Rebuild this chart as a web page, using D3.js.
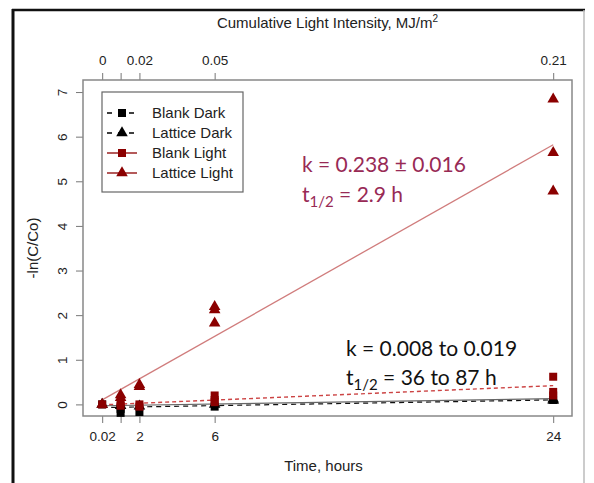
<!DOCTYPE html>
<html>
<head>
<meta charset="utf-8">
<title>Photolysis kinetics</title>
<style>
  body { margin: 0; background: #fff; }
  text { font-family: "Liberation Sans", Arial, sans-serif; fill: #222; }
  .note { font-family: Lato, "Open Sans", sans-serif; }
</style>
</head>
<body>
<script src="https://d3js.org/d3.v7.min.js"></script>
<script>
// tick positions and labels
var hourTicks = [0.02, 1, 2, 6, 24];
var hourTickLabels = ["0.02", "", "2", "6", "24"];
var lightTickLabels = ["0", "", "0.02", "0.05", "0.21"];
var yTicks = [0, 1, 2, 3, 4, 5, 6, 7];

// measured points: [hours, -ln(C/Co)]
var blankDark = [[0.02, 0], [1, -0.19], [1, -0.1], [2, -0.17], [6, -0.05], [24, 0.1]];
var latticeDark = [[0.02, 0], [1, -0.03], [2, -0.04], [6, 0.0], [24, 0.12], [24, 0.09]];
var blankLight = [[0.02, 0], [1, 0.03], [1, -0.03], [2, 0.0], [2, -0.05], [6, 0.2], [6, 0.1], [6, 0.05],
                  [24, 0.62], [24, 0.28], [24, 0.2]];
var latticeLight = [[0.02, 0], [1, 0.21], [1, 0.15], [2, 0.44], [2, 0.4], [6, 2.19], [6, 2.12], [6, 1.82],
                    [24, 6.84], [24, 5.64], [24, 4.78]];

// fitted first-order lines, endpoints
var latticeLightFit = [[0.02, 0.1], [24, 5.82]];
var blankLightFit = [[0.02, -0.01], [24, 0.42]];
var blankDarkFit = [[0.02, -0.07], [24, 0.1]];
var latticeDarkFit = [[0.02, -0.03], [24, 0.13]];

var legendNames = ["Blank Dark", "Lattice Dark", "Blank Light", "Lattice Light"];

var W = 594, H = 483;
var box = {left: 83, top: 80, right: 572, bottom: 416};
var red = "#8b0000";

var svg = d3.select("body").append("svg")
    .attr("width", W).attr("height", H);

// outer frame of the pasted figure
svg.append("line").attr("x1", 13).attr("x2", 13).attr("y1", 9).attr("y2", H)
    .attr("stroke", "#111").attr("stroke-width", 3);
svg.append("line").attr("x1", 12).attr("x2", 585).attr("y1", 10).attr("y2", 10)
    .attr("stroke", "#111").attr("stroke-width", 2.5);
svg.append("line").attr("x1", 584).attr("x2", 584).attr("y1", 10).attr("y2", H)
    .attr("stroke", "#bbb").attr("stroke-width", 1.5);

var x = d3.scaleLinear().domain([-1.0, 25.0]).range([box.left, box.right]);
var y = d3.scaleLinear().domain([-0.26, 7.27]).range([box.bottom, box.top]);

// bottom axis
var xb = svg.append("g")
    .attr("transform", "translate(0," + box.bottom + ")")
    .call(d3.axisBottom(x).tickValues(hourTicks).tickSize(7).tickPadding(8)
        .tickFormat(function(d, i){ return hourTickLabels[i]; }));
// top axis
var xt = svg.append("g")
    .attr("transform", "translate(0," + box.top + ")")
    .call(d3.axisTop(x).tickValues(hourTicks).tickSize(7).tickPadding(8)
        .tickFormat(function(d, i){ return lightTickLabels[i]; }));
// left axis
var yl = svg.append("g")
    .attr("transform", "translate(" + box.left + ",0)")
    .call(d3.axisLeft(y).tickValues(yTicks).tickSize(7).tickPadding(0)
        .tickFormat(d3.format("d")));
yl.selectAll(".tick text")
    .attr("x", null).attr("dy", null)
    .attr("text-anchor", "middle")
    .attr("transform", "translate(-21,0) rotate(-90) translate(0,5)");

[xb, xt, yl].forEach(function(g){
  g.select(".domain").remove();
  g.selectAll(".tick line").attr("stroke", "#777");
  g.selectAll(".tick text").attr("font-size", 13.5).attr("fill", "#222")
    .attr("font-family", "Liberation Sans, Arial, sans-serif");
});

// plot box
svg.append("rect")
    .attr("x", box.left).attr("y", box.top)
    .attr("width", box.right - box.left).attr("height", box.bottom - box.top)
    .attr("fill", "none").attr("stroke", "#888").attr("stroke-width", 1.5);

// axis titles
var cx = (box.left + box.right) / 2;
var tt = svg.append("text").attr("x", cx).attr("y", 28)
    .attr("text-anchor", "middle").attr("font-size", 15)
    .text("Cumulative Light Intensity, MJ/m");
tt.append("tspan").attr("font-size", 10).attr("dy", -6).text("2");

svg.append("text").attr("x", cx - 4).attr("y", 471)
    .attr("text-anchor", "middle").attr("font-size", 15)
    .text("Time, hours");

svg.append("text")
    .attr("transform", "translate(38," + ((box.top + box.bottom) / 2) + ") rotate(-90)")
    .attr("text-anchor", "middle").attr("font-size", 15)
    .text("-ln(C/Co)");

// fit lines
var line = d3.line().x(function(d){ return x(d[0]); }).y(function(d){ return y(d[1]); });
var plot = svg.append("g");
plot.append("path").datum(latticeDarkFit).attr("d", line)
    .attr("fill", "none").attr("stroke", "#666").attr("stroke-width", 1.2);
plot.append("path").datum(blankDarkFit).attr("d", line)
    .attr("fill", "none").attr("stroke", "#111").attr("stroke-width", 1.2)
    .attr("stroke-dasharray", "5,4");
plot.append("path").datum(blankLightFit).attr("d", line)
    .attr("fill", "none").attr("stroke", "#cc4444").attr("stroke-width", 1.4)
    .attr("stroke-dasharray", "4,3");
plot.append("path").datum(latticeLightFit).attr("d", line)
    .attr("fill", "none").attr("stroke", "#d07c7c").attr("stroke-width", 1.3);

// points
var sq = d3.symbol().type(d3.symbolSquare).size(64);
var tri = d3.symbol().type(d3.symbolTriangle).size(58);
function drawPoints(data, sym, color) {
  plot.selectAll(null).data(data).enter().append("path")
      .attr("d", sym)
      .attr("transform", function(d){ return "translate(" + x(d[0]) + "," + y(d[1]) + ")"; })
      .attr("fill", color);
}
drawPoints(latticeDark, tri, "#000");
drawPoints(blankDark, sq, "#000");
drawPoints(blankLight, sq, red);
drawPoints(latticeLight, tri, red);

// legend
var lg = svg.append("g");
lg.append("rect").attr("x", 102).attr("y", 92).attr("width", 141).attr("height", 100)
    .attr("fill", "#fff").attr("stroke", "#666").attr("stroke-width", 1.2);
var legSym = [sq, tri, sq, tri];
var legCol = ["#000", "#000", red, red];
var legDash = ["5,6", "5,6", null, null];
legendNames.forEach(function(name, i){
  var yy = 113 + i * 20;
  lg.append("line").attr("x1", 107).attr("x2", 137).attr("y1", yy).attr("y2", yy)
      .attr("stroke", legCol[i]).attr("stroke-width", 1.3)
      .attr("stroke-dasharray", legDash[i]);
  lg.append("path").attr("d", legSym[i]).attr("transform", "translate(122," + yy + ")")
      .attr("fill", legCol[i]);
  lg.append("text").attr("x", 152).attr("y", yy + 5).attr("font-size", 15).text(name);
});

// rate annotations
var noteRed = "#982a55";
svg.append("text").attr("class", "note").attr("x", 302).attr("y", 172)
    .attr("font-size", 21).style("fill", noteRed).text("k = 0.238 \u00b1 0.016");
var n2 = svg.append("text").attr("class", "note").attr("x", 302).attr("y", 202)
    .attr("font-size", 21).style("fill", noteRed).text("t");
n2.append("tspan").attr("font-size", 15).attr("dy", 5).text("1/2");
n2.append("tspan").attr("dy", -5).text(" = 2.9 h");

svg.append("text").attr("class", "note").attr("x", 346).attr("y", 356)
    .attr("font-size", 21).style("fill", "#111").text("k = 0.008 to 0.019");
var n4 = svg.append("text").attr("class", "note").attr("x", 346).attr("y", 385)
    .attr("font-size", 21).style("fill", "#111").text("t");
n4.append("tspan").attr("font-size", 15).attr("dy", 5).text("1/2");
n4.append("tspan").attr("dy", -5).text(" = 36 to 87 h");
</script>
</body>
</html>
